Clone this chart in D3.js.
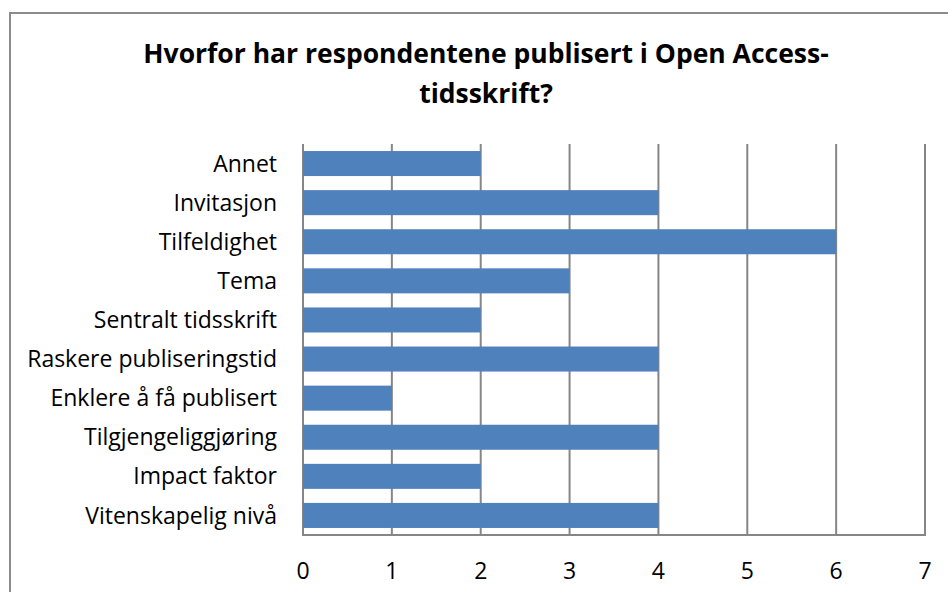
<!DOCTYPE html>
<html>
<head>
<meta charset="utf-8">
<script src="https://cdn.jsdelivr.net/npm/d3@7"></script>
<style>
  html, body { margin: 0; padding: 0; background: #fff; }
  svg { display: block; font-family: "Open Sans", sans-serif; }
</style>
</head>
<body>
<div id="chart"></div>
<script>
// chart data
var titleLines = ["Hvorfor har respondentene publisert i Open Access-", "tidsskrift?"];
var categories = [
  "Annet",
  "Invitasjon",
  "Tilfeldighet",
  "Tema",
  "Sentralt tidsskrift",
  "Raskere publiseringstid",
  "Enklere å få publisert",
  "Tilgjengeliggjøring",
  "Impact faktor",
  "Vitenskapelig nivå"
];
var values = [2, 4, 6, 3, 2, 4, 1, 4, 2, 4];
var xTicks = [0, 1, 2, 3, 4, 5, 6, 7];

var width = 948, height = 592;
var margin = { top: 144, right: 23, bottom: 57, left: 303 };
var barColour = "#4F81BD";
var gridColour = "#868686";

var svg = d3.select("#chart").append("svg")
  .attr("width", width)
  .attr("height", height);

// chart frame (runs off the right and bottom of the picture)
svg.append("path")
  .attr("d", "M10," + (height + 5) + "V13H" + (width + 5))
  .attr("fill", "none")
  .attr("stroke", "#8c8c8c")
  .attr("stroke-width", 2);

// title
svg.append("text")
  .attr("text-anchor", "middle")
  .attr("font-weight", "bold")
  .attr("font-size", 26.5)
  .attr("fill", "#000")
  .selectAll("tspan")
  .data(titleLines)
  .enter()
  .append("tspan")
  .attr("x", 486)
  .attr("y", (d, i) => 63 + i * 40)
  .text(d => d);

var x = d3.scaleLinear()
  .domain([0, 7])
  .range([margin.left, width - margin.right]);

var y = d3.scaleBand()
  .domain(categories)
  .range([margin.top, height - margin.bottom])
  .paddingInner(0.36)
  .paddingOuter(0.18);

var plotTop = margin.top, plotBottom = height - margin.bottom;

// vertical grid lines
svg.append("g")
  .selectAll("line")
  .data(xTicks)
  .enter()
  .append("line")
  .attr("x1", d => x(d))
  .attr("x2", d => x(d))
  .attr("y1", plotTop)
  .attr("y2", plotBottom)
  .attr("stroke", gridColour)
  .attr("stroke-width", 2);

// bars
svg.append("g")
  .selectAll("rect")
  .data(categories)
  .enter()
  .append("rect")
  .attr("x", x(0))
  .attr("y", d => y(d))
  .attr("width", (d, i) => x(values[i]) - x(0))
  .attr("height", y.bandwidth())
  .attr("fill", barColour);

// bottom axis line
svg.append("line")
  .attr("x1", x(0) - 1)
  .attr("x2", x(7) + 1)
  .attr("y1", plotBottom)
  .attr("y2", plotBottom)
  .attr("stroke", gridColour)
  .attr("stroke-width", 2);

// category labels
svg.append("g")
  .selectAll("text")
  .data(categories)
  .enter()
  .append("text")
  .attr("x", x(0) - 26)
  .attr("y", d => y(d) + y.bandwidth() / 2)
  .attr("dy", "0.35em")
  .attr("text-anchor", "end")
  .attr("font-size", 23)
  .attr("fill", "#000")
  .text(d => d);

// x tick labels
svg.append("g")
  .selectAll("text")
  .data(xTicks)
  .enter()
  .append("text")
  .attr("x", d => x(d))
  .attr("y", plotBottom + 36)
  .attr("dy", "0.35em")
  .attr("text-anchor", "middle")
  .attr("font-size", 23)
  .attr("fill", "#000")
  .text(d => d);
</script>
</body>
</html>
